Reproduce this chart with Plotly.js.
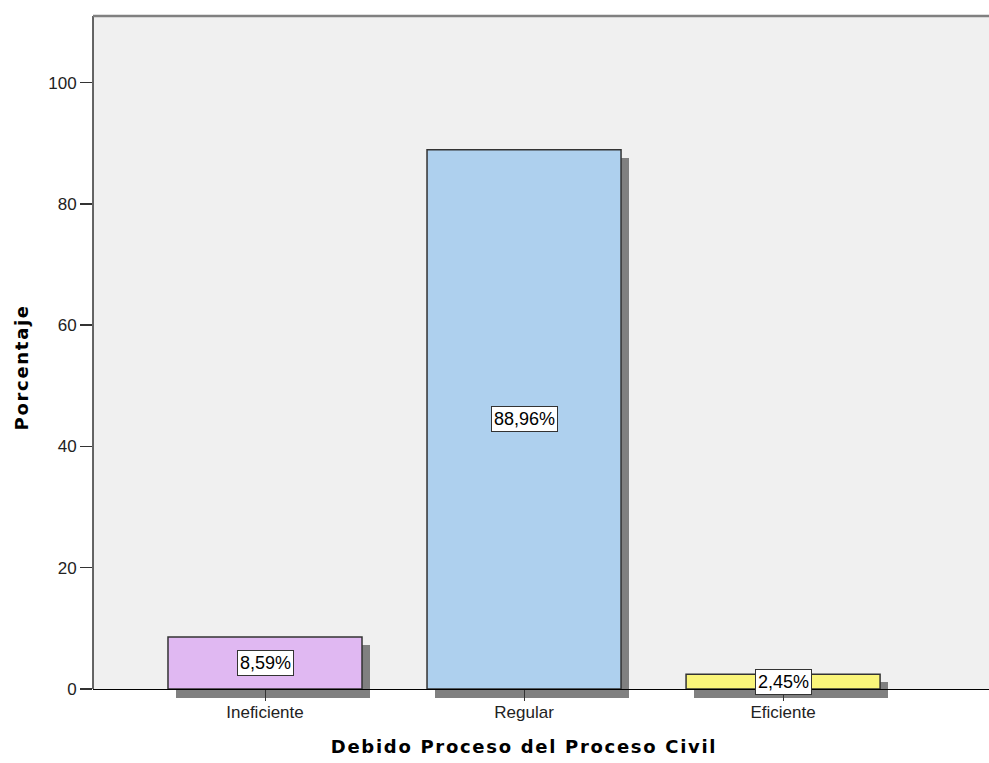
<!DOCTYPE html>
<html>
<head>
<meta charset="utf-8">
<script src="https://cdn.plot.ly/plotly-3.0.1.min.js"></script>
<style>html,body{margin:0;padding:0;background:#fff;}#chart{width:989px;height:763px;}</style>
</head>
<body>
<div id="chart"></div>
<script>
var categories = ["Ineficiente", "Regular", "Eficiente"];
var percentages = [8.59, 88.96, 2.45];
var valueLabels = ["8,59%", "88,96%", "2,45%"];
var barColors = ["#E0B8F2", "#AED0EE", "#FAF57A"];
var yTicks = [0, 20, 40, 60, 80, 100];
var xTitle = "Debido Proceso del Proceso Civil";
var yTitle = "Porcentaje";

// style constants (pixel offsets converted to axis units)
var pxPerUnitY = 6.063;
var shadowDown = 8 / pxPerUnitY;
var shadowBelow = 9 / pxPerUnitY;
var barWidth = 0.749;
var shadowShiftX = 8 / 259;
var yMin = -shadowBelow, yMax = 111.0;
var FONT = "Liberation Sans, Arial, sans-serif";
var TITLE_FONT = "DejaVu Sans, Verdana, sans-serif";

var shadow = {
  type: "bar",
  x: categories,
  y: percentages.map(function (v) { return v - shadowDown + shadowBelow; }),
  base: percentages.map(function () { return -shadowBelow; }),
  width: barWidth,
  offset: -barWidth / 2 + shadowShiftX,
  marker: { color: "#808080", line: { width: 0 } },
  hoverinfo: "skip",
  showlegend: false
};

var bars = {
  type: "bar",
  x: categories,
  y: percentages,
  width: barWidth,
  offset: -barWidth / 2,
  marker: { color: barColors, line: { color: "#333333", width: 1.5 } },
  showlegend: false
};

var annotations = categories.map(function (c, i) {
  return {
    x: c, y: percentages[i] / 2, xref: "x", yref: "y",
    text: valueLabels[i], showarrow: false,
    font: { family: FONT, size: 18, color: "#000" },
    bgcolor: "#ffffff", bordercolor: "#333333", borderwidth: 1, borderpad: 2
  };
});
annotations.push({
  x: 1, xref: "x", y: -0.0894, yref: "paper",
  text: "<b>" + xTitle + "</b>", showarrow: false,
  font: { family: TITLE_FONT, size: 18, color: "#000" }
});
annotations.push({
  x: (22 - 93) / 896, xref: "paper", xanchor: "center", y: 0.4839, yref: "paper",
  text: "<b>" + yTitle + "</b>", showarrow: false, textangle: -90,
  font: { family: TITLE_FONT, size: 18, color: "#000" }
});

var layout = {
  width: 989, height: 763,
  margin: { l: 93, r: 0, t: 16, b: 65 },
  paper_bgcolor: "#ffffff",
  plot_bgcolor: "#ffffff",
  bargap: 0,
  xaxis: {
    type: "category",
    range: [-0.664, 2.795],
    anchor: "free",
    position: (0 - yMin) / (yMax - yMin),
    showline: true, linecolor: "#000000", linewidth: 1.5,
    ticks: "outside", ticklen: 11, tickcolor: "#333333", tickwidth: 1,
    ticklabelstandoff: -4,
    showgrid: false, zeroline: false,
    tickfont: { family: FONT, size: 17, color: "#222" }
  },
  yaxis: {
    range: [yMin, yMax],
    tickvals: yTicks,
    ticktext: yTicks.map(String),
    showline: false,
    ticks: "outside", ticklen: 12, tickcolor: "#333333", tickwidth: 1.5,
    showgrid: false, zeroline: false,
    tickfont: { family: FONT, size: 17, color: "#222" }
  },
  shapes: [
    { type: "rect", layer: "below", xref: "paper", yref: "y", x0: 0, x1: 1, y0: 0, y1: yMax,
      fillcolor: "#F0F0F0", line: { width: 0 } },
    { type: "line", layer: "above", xref: "paper", yref: "y", x0: 0, x1: 0, y0: 0, y1: yMax,
      line: { color: "#333333", width: 1.5 } },
    { type: "line", xref: "paper", yref: "paper", x0: 0, x1: 1, y0: 1, y1: 1,
      line: { color: "#808080", width: 2.5 } }
  ],
  annotations: annotations
};

Plotly.newPlot("chart", [shadow, bars], layout, { displayModeBar: false, staticPlot: true }).then(function () {
  var nodes = document.querySelectorAll(".annotation-text");
  nodes.forEach(function (n) {
    var t = n.textContent;
    if (t === xTitle || t === yTitle) {
      n.style.letterSpacing = "1.7px";
    }
  });
});
</script>
</body>
</html>
